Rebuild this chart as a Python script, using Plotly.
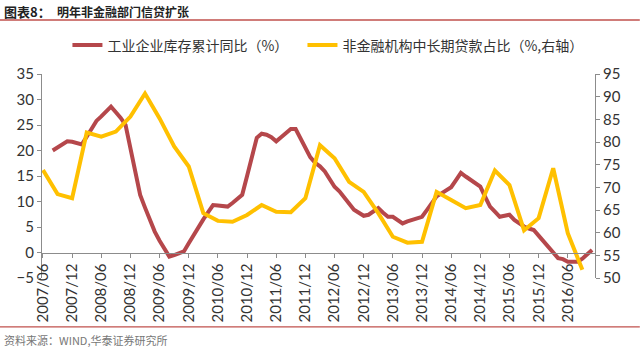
import plotly.graph_objects as go

# month index 0 = 2007/06
tick_months = list(range(0, 109, 6))
tick_labels = ["2007/06", "2007/12", "2008/06", "2008/12", "2009/06", "2009/12",
               "2010/06", "2010/12", "2011/06", "2011/12", "2012/06", "2012/12",
               "2013/06", "2013/12", "2014/06", "2014/12", "2015/06", "2015/12",
               "2016/06"]

# 工业企业库存累计同比 (monthly, from 2007/08)
inv_start = 2
inventory_yoy = [
    20.0, 20.6, 21.2, 21.8, 21.7, 21.4, 21.2, 22.7, 24.3, 25.8,
    26.7, 27.6, 28.6, 27.5, 26.4, 25.0, 20.5, 16.0, 11.3, 8.8,
    6.4, 4.1, 2.3, 0.6, -0.8, -0.5, -0.1, 0.2, 1.8, 3.4,
    5.1, 6.5, 7.9, 9.3, 9.2, 9.1, 9.0, 9.7, 10.5, 11.3,
    15.0, 18.8, 22.5, 23.3, 23.1, 22.6, 21.8, 22.6, 23.4, 24.2,
    24.2, 22.3, 20.6, 18.7, 17.6, 16.9, 15.9, 14.4, 12.9, 12.0,
    10.8, 9.6, 8.4, 7.8, 7.2, 7.4, 8.0, 8.7, 7.8, 7.0,
    7.0, 6.3, 5.7, 6.1, 6.4, 6.7, 7.0, 8.3, 9.7, 11.0,
    11.6, 12.3, 12.8, 14.2, 15.6, 14.9, 14.2, 13.5, 12.9, 10.9,
    9.0, 8.0, 7.0, 7.2, 7.4, 6.4, 5.7, 5.1, 4.7, 4.4,
    3.3, 2.2, 1.1, 0.0, -1.1, -1.3, -1.8, -1.8, -1.8, -1.2,
    -0.4, 0.5,
]
inv_months = [inv_start + i for i in range(len(inventory_yoy))]

# 非金融机构中长期贷款占比 (quarterly, from 2007/06)
loan_share = [
    73.8, 68.5, 67.6, 82.1, 81.2, 82.3, 85.6, 90.7, 85.2, 79.0,
    74.6, 64.3, 62.6, 62.4, 63.9, 66.1, 64.6, 64.5, 67.6, 79.3,
    76.4, 71.2, 69.0, 64.3, 59.1, 57.8, 58.0, 69.0, 67.2, 65.4,
    66.1, 73.7, 70.5, 60.5, 63.2, 74.2, 59.9, 51.8,
]
loan_months = [3 * i for i in range(len(loan_share))]

RED = "#B5474B"
YEL = "#FFC000"
AX = "#8C8C8C"
TXT = "#333333"
NUMFONT = "Lato, Open Sans, sans-serif"
CJK = "Noto Sans CJK SC"

Y_MIN, Y_MAX = -5, 35

fig = go.Figure()
fig.add_trace(go.Scatter(x=inv_months, y=inventory_yoy, mode="lines",
                         name="工业企业库存累计同比（%）",
                         line=dict(color=RED, width=4), legend="legend"))
fig.add_trace(go.Scatter(x=loan_months, y=loan_share, mode="lines",
                         name="非金融机构中长期贷款占比（%,右轴）",
                         line=dict(color=YEL, width=4), yaxis="y2", legend="legend2"))

leg_common = dict(orientation="h", y=1.14, xanchor="left", yanchor="middle",
                  font=dict(family=CJK, size=14, color=TXT),
                  bgcolor="rgba(0,0,0,0)", itemwidth=30)

fig.update_layout(
    width=640, height=352,
    margin=dict(l=42, r=45, t=74, b=74),
    paper_bgcolor="white", plot_bgcolor="white",
    showlegend=True,
    legend=dict(x=0.046, **leg_common),
    legend2=dict(x=0.471, **leg_common),
    xaxis=dict(range=[-0.2, 113.6], tickvals=tick_months, ticktext=tick_labels,
               tickangle=-90, showgrid=False, zeroline=False,
               anchor="free", position=(0 - Y_MIN) / (Y_MAX - Y_MIN),
               showline=True, linecolor=AX, linewidth=1,
               ticks="outside", ticklen=4, tickcolor=AX,
               tickfont=dict(family=NUMFONT, size=15, color=TXT)),
    yaxis=dict(range=[Y_MIN, Y_MAX], dtick=5, tick0=0, showgrid=False,
               zeroline=False,
               showline=True, linecolor=AX, linewidth=1,
               ticks="outside", ticklen=4, tickcolor=AX,
               tickfont=dict(family=NUMFONT, size=15, color=TXT)),
    yaxis2=dict(range=[50, 95], dtick=5, tick0=50, overlaying="y", side="right",
                showgrid=False, zeroline=False,
                showline=True, linecolor=AX, linewidth=1,
                ticks="outside", ticklen=4, tickcolor=AX,
                tickfont=dict(family=NUMFONT, size=15, color=TXT)),
    shapes=[
        dict(type="line", xref="paper", yref="paper", x0=-0.076, x1=1.081,
             y0=1.265, y1=1.265, line=dict(color="#C0504D", width=1.5)),
        dict(type="line", xref="paper", yref="paper", x0=-0.076, x1=1.081,
             y0=-0.240, y1=-0.240, line=dict(color="#C0504D", width=1.2)),
    ],
    annotations=[
        dict(text="<b>图表8：</b>", xref="paper", yref="paper",
             x=-0.073, y=1.304, xanchor="left", yanchor="middle", showarrow=False,
             font=dict(family=CJK, size=13, color="#222222")),
        dict(text="<b>明年非金融部门信贷扩张</b>", xref="paper", yref="paper",
             x=(55 - 42) / 553, y=1.304, xanchor="left", yanchor="middle", showarrow=False,
             font=dict(family=CJK, size=12, color="#222222")),
        dict(text="资料来源：WIND,华泰证券研究所", xref="paper", yref="paper",
             x=-0.073, y=-0.304, xanchor="left", yanchor="middle", showarrow=False,
             font=dict(family=CJK, size=11, color="#777777")),
    ],
)

fig.write_html("out.html")
